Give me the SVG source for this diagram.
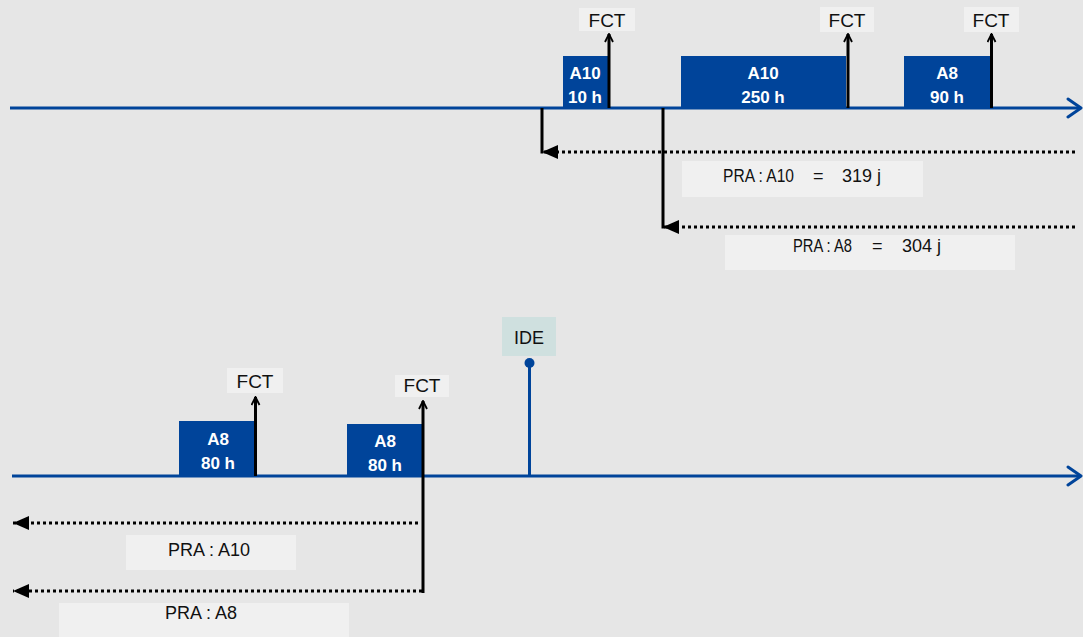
<svg xmlns="http://www.w3.org/2000/svg" width="1083" height="637" viewBox="0 0 1083 637">
<defs>
<style>
.axis{stroke:#00449a;stroke-width:3;fill:none}
.chev{stroke:#00449a;stroke-width:3;fill:none;stroke-linecap:round;stroke-linejoin:round}
.box{fill:#00449a}
.bt{font-family:"Liberation Sans",Arial,sans-serif;font-weight:bold;font-size:17px;fill:#ffffff;text-anchor:middle}
.lbl{fill:#f0f0f0}
.lt{font-family:"Liberation Sans",Arial,sans-serif;font-size:18px;fill:#111111}
.f{font-size:19px;text-anchor:middle}
.c{text-anchor:middle}
.fct{stroke:#000;stroke-width:3;fill:none}
.dot{stroke:#000;stroke-width:3;fill:none;stroke-dasharray:3 3}
.bar{stroke:#000;stroke-width:3;fill:none}
</style>
<marker id="up" viewBox="0 0 10 10" refX="9" refY="5" markerWidth="10" markerHeight="10" markerUnits="userSpaceOnUse" orient="auto">
<path d="M1,1 L9,5 L1,9" fill="none" stroke="#000" stroke-width="1.8"/>
</marker>
<marker id="tri" viewBox="0 0 16 14" refX="16" refY="7" markerWidth="16" markerHeight="14" markerUnits="userSpaceOnUse" orient="auto">
<path d="M0,0 L16,7 L0,14 Z" fill="#000"/>
</marker>
</defs>
<rect width="1083" height="637" fill="#e6e6e6"/>

<g id="axes">
<line class="axis" x1="10" y1="108" x2="1081" y2="108"/>
<polyline class="chev" points="1068,99 1081,108 1068,117"/>
<line class="axis" x1="12" y1="476" x2="1081" y2="476"/>
<polyline class="chev" points="1068,467 1081,476 1068,485"/>
</g>

<g id="task-a10-10h">
<rect class="box" x="563" y="56" width="46" height="52"/>
<text class="bt" x="585" y="79">A10</text>
<text class="bt" x="585" y="103">10 h</text>
</g>
<g id="task-a10-250h">
<rect class="box" x="681" y="56" width="165" height="52"/>
<text class="bt" x="763" y="79">A10</text>
<text class="bt" x="763" y="103">250 h</text>
</g>
<g id="task-a8-90h">
<rect class="box" x="904" y="56" width="87" height="52"/>
<text class="bt" x="947" y="79">A8</text>
<text class="bt" x="947" y="103">90 h</text>
</g>

<g id="fct-1">
<rect class="lbl" x="579" y="8" width="56" height="23"/>
<text class="lt f" x="607" y="27">FCT</text>
</g>
<g id="fct-2">
<rect class="lbl" x="820" y="7" width="54" height="25"/>
<text class="lt f" x="847" y="27">FCT</text>
</g>
<g id="fct-3">
<rect class="lbl" x="964" y="7" width="55" height="25"/>
<text class="lt f" x="991" y="27">FCT</text>
</g>

<g id="pra-a10-top">
<rect class="lbl" x="682" y="161" width="241" height="36"/>
<text class="lt" x="723" y="182" textLength="71" lengthAdjust="spacingAndGlyphs">PRA : A10</text>
<text class="lt" x="813" y="182">=</text>
<text class="lt" x="842" y="182">319 j</text>
</g>
<g id="pra-a8-top">
<rect class="lbl" x="725" y="235" width="290" height="35"/>
<text class="lt" x="793" y="252" textLength="59" lengthAdjust="spacingAndGlyphs">PRA : A8</text>
<text class="lt" x="872" y="252">=</text>
<text class="lt" x="902" y="252">304 j</text>
</g>

<g id="task-a8-80h-1">
<rect class="box" x="179" y="421" width="76" height="55"/>
<text class="bt" x="218" y="445">A8</text>
<text class="bt" x="218" y="469">80 h</text>
</g>
<g id="task-a8-80h-2">
<rect class="box" x="347" y="424" width="77" height="52"/>
<text class="bt" x="385" y="447">A8</text>
<text class="bt" x="385" y="471">80 h</text>
</g>

<g id="fct-4">
<rect class="lbl" x="227" y="368" width="56" height="25"/>
<text class="lt f" x="255" y="388">FCT</text>
</g>
<g id="fct-5">
<rect class="lbl" x="395" y="375" width="54" height="22"/>
<text class="lt f" x="422" y="392">FCT</text>
</g>

<g id="ide">
<rect x="502" y="317" width="54" height="39" fill="#cfe0df"/>
<text class="lt c" x="529" y="344">IDE</text>
<line class="axis" x1="529.5" y1="363" x2="529.5" y2="476"/>
<circle cx="529.5" cy="363" r="5" fill="#00449a"/>
</g>

<g id="pra-a10-bottom">
<rect class="lbl" x="126" y="535" width="170" height="35"/>
<text class="lt" x="168" y="556">PRA : A10</text>
</g>
<g id="pra-a8-bottom">
<rect class="lbl" x="59" y="603" width="290" height="34"/>
<text class="lt" x="165" y="619">PRA : A8</text>
</g>

<g id="connectors">
<line class="fct" x1="609" y1="108" x2="609" y2="34" marker-end="url(#up)"/>
<line class="fct" x1="848" y1="108" x2="848" y2="34" marker-end="url(#up)"/>
<line class="fct" x1="991.5" y1="108" x2="991.5" y2="34" marker-end="url(#up)"/>
<line class="fct" x1="255.5" y1="476" x2="255.5" y2="397" marker-end="url(#up)"/>
<line class="fct" x1="423" y1="593" x2="423" y2="401" marker-end="url(#up)"/>

<line class="bar" x1="542" y1="108" x2="542" y2="153.5"/>
<line class="dot" x1="1075" y1="152" x2="542" y2="152" marker-end="url(#tri)"/>
<line class="bar" x1="663" y1="108" x2="663" y2="228.5"/>
<line class="dot" x1="1075" y1="227" x2="663" y2="227" marker-end="url(#tri)"/>

<line class="dot" x1="418" y1="523" x2="13" y2="523" marker-end="url(#tri)"/>
<line class="dot" x1="422" y1="591" x2="13" y2="591" marker-end="url(#tri)"/>
</g>
</svg>
